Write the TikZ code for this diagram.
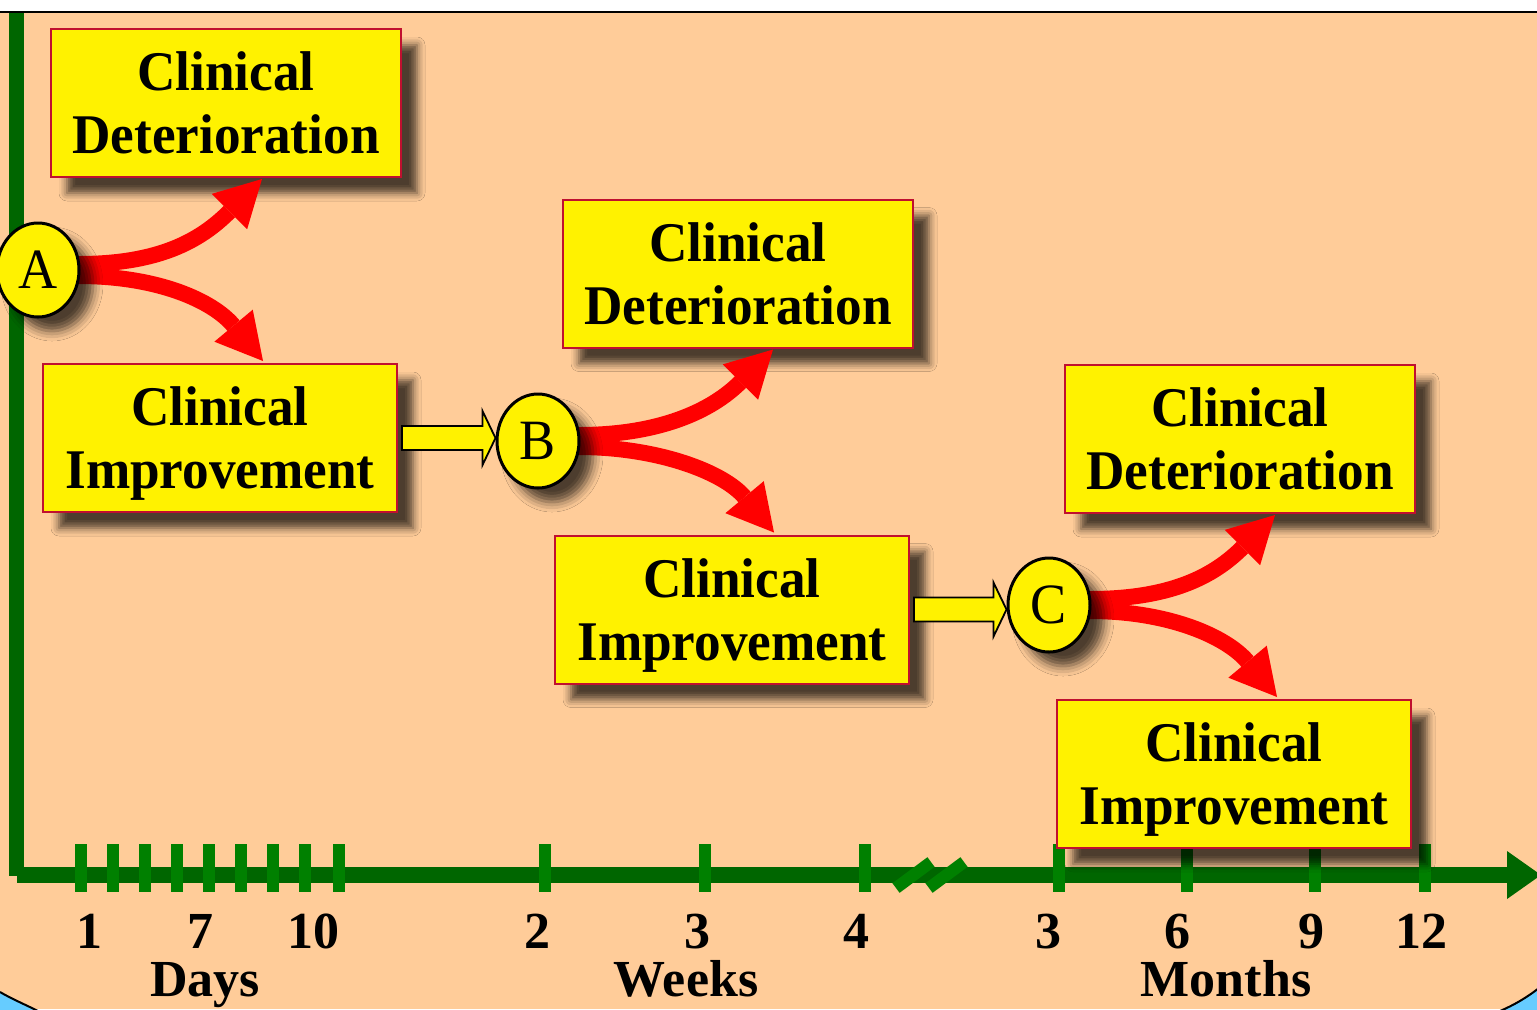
\documentclass[tikz,border=0pt]{standalone}
\usepackage{fontspec}
\setmainfont{Liberation Serif}[FakeStretch=0.95]
\newfontfamily\labfont{Liberation Serif}
\usetikzlibrary{shapes.geometric,arrows.meta,calc,shadows.blur}
\pgfdeclarelayer{front}
\pgfsetlayers{main,front}
\definecolor{peach}{HTML}{FFCC99}
\definecolor{skyb}{HTML}{66CCFF}
\definecolor{axisg}{HTML}{006600}
\definecolor{tickg}{HTML}{008000}
\definecolor{boxred}{HTML}{C0102F}
\tikzset{
  box/.style={draw=boxred, line width=1pt, fill=yellow, minimum width=175pt,
    minimum height=74pt, align=center, inner sep=0pt,
    font=\bfseries\fontsize{28}{31.5}\selectfont,
    blur shadow={shadow xshift=8pt, shadow yshift=-8pt, shadow blur radius=4pt, shadow opacity=70}},
  stage/.style={ellipse, draw=black, line width=1.5pt, fill=yellow, minimum width=41pt,
    minimum height=47pt, inner sep=0pt, font=\fontsize{28.5}{30}\selectfont,
    blur shadow={shadow xshift=7pt, shadow yshift=-7pt, shadow blur radius=5pt, shadow opacity=70}},
  redarrow/.style={draw=red, line width=8pt, -{Triangle[length=23pt,width=25pt,line width=0pt]}},
  blockarrow/.style={draw=black, line width=0.9pt, fill=yellow, line join=miter},
  tickmark/.style={draw=tickg, line width=6pt},
  ticklabel/.style={anchor=base, inner sep=0pt, font=\labfont\bfseries\fontsize{26}{28}\selectfont},
  axislabel/.style={anchor=base, inner sep=0pt, font=\labfont\bfseries\fontsize{26}{28}\selectfont}
}
\begin{document}
\begin{tikzpicture}[x=0.5pt, y=-0.5pt]
\useasboundingbox (0,0) rectangle (1537,1009);
% background
\fill[white] (0,0) rectangle (1537,12);
\fill[peach] (0,12) rectangle (1537,1009);
\draw[black, line width=1.3pt] (0,12) -- (1537,12);
\fill[skyb] (0,992) .. controls (12,999) and (24,1004) .. (38,1011) -- (0,1011) -- cycle;
\draw[black, line width=1pt] (0,992) .. controls (12,999) and (24,1004) .. (38,1011);
\fill[skyb] (1500,1011) .. controls (1514,1005) and (1526,998) .. (1539,988) -- (1539,1011) -- cycle;
\draw[black, line width=1pt] (1500,1011) .. controls (1514,1005) and (1526,998) .. (1539,988);
% axes
\draw[axisg, line width=7.5pt] (16.5,13) -- (16.5,876);
\draw[axisg, line width=8pt, -{Triangle[length=17pt,width=24pt,line width=0pt]}] (17,875) -- (1541,875);
\foreach \x in {81,113,145,177,209,241,273,305,339,545,705,865,1059,1187,1315,1425}
  \draw[tickmark] (\x,844) -- (\x,892);
\draw[tickmark] (896,888) -- (931,862);
\draw[tickmark] (929,888) -- (964,862);
% tick labels
\foreach \x/\t in {89/1,200/7,313/10,537/2,697/3,856/4,1048/3,1177/6,1311/9,1421/12}
  \node[ticklabel] at (\x,948) {\t};
\node[axislabel] (days) at (205,996) {Days};
\node[axislabel] (weeks) at (686,996) {Weeks};
\node[axislabel] (months) at (1226,996) {Months};
% boxes
\node[box] (d1) at (226,103) {Clinical\\Deterioration};
\node[box, minimum width=177pt] (i1) at (220,438) {Clinical\\\smash{Improvement}};
\node[box] (d2) at (738,273.5) {Clinical\\Deterioration};
\node[box, minimum width=177pt] (i2) at (732,609.5) {Clinical\\\smash{Improvement}};
\node[box] (d3) at (1240,439) {Clinical\\Deterioration};
\node[box, minimum width=177pt] (i3) at (1234,774) {Clinical\\\smash{Improvement}};
% stage circles
\begin{pgfonlayer}{front}
\node[stage] (A) at (38,270) {A};
\node[stage] (B) at (538,441) {B};
\node[stage] (C) at (1049,605) {C};
\end{pgfonlayer}
% tip coordinates
\coordinate (tA1) at ($(d1.south)+(36,1)$);
\coordinate (tA2) at ($(i1.north)+(43,-2)$);
\coordinate (tB1) at ($(d2.south)+(35,1)$);
\coordinate (tB2) at ($(i2.north)+(42,-2)$);
\coordinate (tC1) at ($(d3.south)+(35,1)$);
\coordinate (tC2) at ($(i3.north)+(43,-2)$);
% red curved arrows
\foreach \s/\u/\l in {A/tA1/tA2,B/tB1/tB2,C/tC1/tC2}{
  \draw[redarrow] ($(\s.east)+(-2,-6)$) .. controls +(80,0) and ($(\u)+(-62,62)$) .. (\u);
  \draw[redarrow] ($(\s.east)+(-2,6)$) .. controls +(80,0) and ($(\l)+(-50,-60)$) .. (\l);
}
% yellow block arrows
\foreach \bx/\st in {i1/B,i2/C}{
  \coordinate (s) at ($(\bx.east)+(4,0)$);
  \coordinate (t) at (\st.west |- \bx.east);
  \path[blockarrow] ($(s)+(0,-12)$) -- ($(t)+(-13,-12)$) -- ($(t)+(-13,-27)$) -- (t)
     -- ($(t)+(-13,27)$) -- ($(t)+(-13,12)$) -- ($(s)+(0,12)$) -- cycle;
}
\end{tikzpicture}
\end{document}
